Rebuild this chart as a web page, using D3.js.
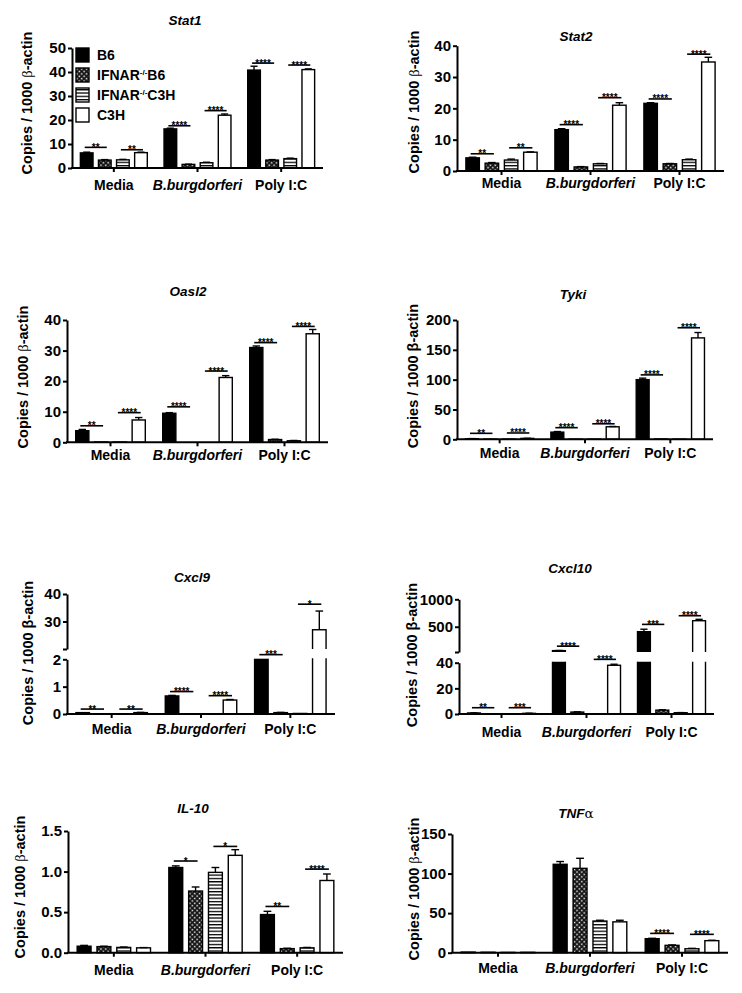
<!DOCTYPE html>
<html>
<head>
<meta charset="utf-8">
<script src="https://cdn.jsdelivr.net/npm/d3@7"></script>
<style>
  body { margin: 0; background: #fff; }
  svg text { font-family: "Liberation Sans", Arial, Helvetica, sans-serif; font-weight: bold; fill: #000; }
</style>
</head>
<body>
<svg id="chart" width="742" height="993"></svg>
<script>
const categories = ["Media", "B.burgdorferi", "Poly I:C"];
const groups = ["B6", "IFNAR-/-B6", "IFNAR-/-C3H", "C3H"];

// mean copies / 1000 b-actin, rows = category, cols = group
const stat1Mean = [[6.3, 3.3, 3.4, 6.4], [16.3, 1.5, 2.2, 22.0], [40.8, 3.3, 3.9, 41.0]];
const stat1Sem = [[0.3, 0.2, 0.2, 0.2], [0.3, 0.1, 0.2, 0.5], [1.6, 0.2, 0.2, 0.3]];
const stat1Sig = [
  {c: 0, a: 0, b: 1, label: "**", y: 8.6}, {c: 0, a: 2, b: 3, label: "**", y: 7.6},
  {c: 1, a: 0, b: 1, label: "****", y: 17.6}, {c: 1, a: 2, b: 3, label: "****", y: 23.9},
  {c: 2, a: 0, b: 1, label: "****", y: 43.7}, {c: 2, a: 2, b: 3, label: "****", y: 42.9}
];
const stat1Ticks = [0, 10, 20, 30, 40, 50];

const stat2Mean = [[4.2, 2.5, 3.5, 6.0], [13.2, 1.3, 2.3, 21.0], [21.6, 2.3, 3.6, 34.8]];
const stat2Sem = [[0.2, 0.2, 0.3, 0.1], [0.3, 0.1, 0.1, 0.8], [0.2, 0.1, 0.2, 1.5]];
const stat2Sig = [
  {c: 0, a: 0, b: 1, label: "**", y: 5.5}, {c: 0, a: 2, b: 3, label: "**", y: 7.4},
  {c: 1, a: 0, b: 1, label: "****", y: 14.8}, {c: 1, a: 2, b: 3, label: "****", y: 23.4},
  {c: 2, a: 0, b: 1, label: "****", y: 23.0}, {c: 2, a: 2, b: 3, label: "****", y: 37.3}
];
const stat2Ticks = [0, 10, 20, 30, 40];

const oasl2Mean = [[3.8, 0.1, 0.1, 7.3], [9.5, 0, 0, 21.2], [31.0, 0.9, 0.5, 35.5]];
const oasl2Sem = [[0.4, 0, 0, 0.8], [0.2, 0, 0, 0.6], [0.5, 0.1, 0.1, 1.4]];
const oasl2Sig = [
  {c: 0, a: 0, b: 1, label: "**", y: 5.4}, {c: 0, a: 2, b: 3, label: "****", y: 9.7},
  {c: 1, a: 0, b: 1, label: "****", y: 11.6}, {c: 1, a: 2, b: 3, label: "****", y: 23.3},
  {c: 2, a: 0, b: 1, label: "****", y: 32.6}, {c: 2, a: 2, b: 3, label: "****", y: 37.9}
];
const oasl2Ticks = [0, 10, 20, 30, 40];

const tykiMean = [[1.0, 0.3, 0.3, 1.5], [12.0, 0.2, 0.2, 21.0], [100.0, 0.5, 0.2, 170.0]];
const tykiSem = [[0.2, 0, 0, 0.2], [1.0, 0, 0, 0.5], [2.5, 0, 0, 9.0]];
const tykiSig = [
  {c: 0, a: 0, b: 1, label: "**", y: 10}, {c: 0, a: 2, b: 3, label: "****", y: 10.6},
  {c: 1, a: 0, b: 1, label: "****", y: 19.5}, {c: 1, a: 2, b: 3, label: "****", y: 26},
  {c: 2, a: 0, b: 1, label: "****", y: 108}, {c: 2, a: 2, b: 3, label: "****", y: 187}
];
const tykiTicks = [0, 50, 100, 150, 200];

const cxcl9Mean = [[0.05, 0.01, 0.01, 0.05], [0.66, 0.01, 0.01, 0.51], [2.0, 0.05, 0.02, 27.0]];
const cxcl9Sem = [[0, 0, 0, 0.01], [0.02, 0, 0, 0.02], [0, 0.01, 0, 6.8]];
const cxcl9Sig = [
  {c: 0, a: 0, b: 1, label: "**", y: 0.18}, {c: 0, a: 2, b: 3, label: "**", y: 0.18},
  {c: 1, a: 0, b: 1, label: "****", y: 0.82}, {c: 1, a: 2, b: 3, label: "****", y: 0.67},
  {c: 2, a: 0, b: 1, label: "***", y: 2.17, low: true}, {c: 2, a: 2, b: 3, label: "*", y: 36.3}
];
const cxcl9UpperTicks = [30, 40];
const cxcl9LowerTicks = [0, 1, 2];

const cxcl10Mean = [[0.8, 0.1, 0.1, 0.5], [65, 1.5, 0.1, 38.0], [410, 3.0, 1.0, 610]];
const cxcl10Sem = [[0.1, 0, 0, 0.1], [3, 0.2, 0, 0.8], [45, 0.3, 0.1, 25]];
const cxcl10Sig = [
  {c: 0, a: 0, b: 1, label: "**", y: 4.9}, {c: 0, a: 2, b: 3, label: "***", y: 4.9},
  {c: 1, a: 0, b: 1, label: "****", y: 146}, {c: 1, a: 2, b: 3, label: "****", y: 42.6, low: true},
  {c: 2, a: 0, b: 1, label: "***", y: 543}, {c: 2, a: 2, b: 3, label: "****", y: 701}
];
const cxcl10UpperTicks = [500, 1000];
const cxcl10LowerTicks = [0, 20, 40];

const il10Mean = [[0.08, 0.075, 0.065, 0.06], [1.05, 0.76, 0.99, 1.2], [0.47, 0.05, 0.06, 0.89]];
const il10Sem = [[0.01, 0.005, 0.005, 0.003], [0.02, 0.05, 0.06, 0.07], [0.04, 0.005, 0.005, 0.08]];
const il10Sig = [
  {c: 1, a: 0, b: 1, label: "*", y: 1.13}, {c: 1, a: 2, b: 3, label: "*", y: 1.31},
  {c: 2, a: 0, b: 1, label: "**", y: 0.57}, {c: 2, a: 2, b: 3, label: "****", y: 1.03}
];
const il10Ticks = [0, 0.5, 1.0, 1.5];

const tnfMean = [[0.8, 0.6, 0.4, 0.5], [111.7, 106.6, 40.0, 39.0], [17.7, 9.3, 5.0, 15.2]];
const tnfSem = [[0, 0, 0, 0], [3.5, 12.7, 1.0, 2.0], [0.5, 0.5, 0.5, 0.5]];
const tnfSig = [
  {c: 2, a: 0, b: 1, label: "****", y: 24.4}, {c: 2, a: 2, b: 3, label: "****", y: 23.2}
];
const tnfTicks = [0, 50, 100, 150];

const panels = [
  {id: "stat1", gene: "Stat1", mean: stat1Mean, sem: stat1Sem, sig: stat1Sig, legend: true, betaSerif: true,
   segs: [{domain: [0, 50], top: 48, bottom: 168, ticks: stat1Ticks}],
   box: {x0: 72, x1: 323, titleX: 185, titleY: 25, catY: 190, labelX: 27, labelY: 103}},
  {id: "stat2", gene: "Stat2", mean: stat2Mean, sem: stat2Sem, sig: stat2Sig, betaSerif: true,
   segs: [{domain: [0, 40], top: 45.7, bottom: 171, ticks: stat2Ticks}],
   box: {x0: 457, x1: 724, titleX: 576, titleY: 41, catY: 188, labelX: 414, labelY: 102}},
  {id: "oasl2", gene: "Oasl2", mean: oasl2Mean, sem: oasl2Sem, sig: oasl2Sig, betaSerif: true,
   segs: [{domain: [0, 40], top: 320, bottom: 442.3, ticks: oasl2Ticks}],
   box: {x0: 67, x1: 328, titleX: 188, titleY: 296, catY: 460, labelX: 23, labelY: 377}},
  {id: "tyki", gene: "Tyki", mean: tykiMean, sem: tykiSem, sig: tykiSig,
   segs: [{domain: [0, 200], top: 320, bottom: 439.3, ticks: tykiTicks}],
   box: {x0: 457, x1: 713, titleX: 573, titleY: 299, catY: 458, labelX: 413, labelY: 376}},
  {id: "cxcl9", gene: "Cxcl9", mean: cxcl9Mean, sem: cxcl9Sem, sig: cxcl9Sig,
   segs: [{domain: [20, 40], top: 594, bottom: 649, ticks: cxcl9UpperTicks},
          {domain: [0, 2], top: 659.3, bottom: 714, ticks: cxcl9LowerTicks}],
   box: {x0: 67, x1: 335, titleX: 192, titleY: 582, catY: 734, labelX: 28, labelY: 653}},
  {id: "cxcl10", gene: "Cxcl10", mean: cxcl10Mean, sem: cxcl10Sem, sig: cxcl10Sig,
   segs: [{domain: [40, 1000], top: 599.3, bottom: 652, ticks: cxcl10UpperTicks},
          {domain: [0, 40], top: 662.7, bottom: 714, ticks: cxcl10LowerTicks}],
   box: {x0: 459, x1: 714, titleX: 570, titleY: 572.5, catY: 736.5, labelX: 412, labelY: 655}},
  {id: "il10", gene: "IL-10", mean: il10Mean, sem: il10Sem, sig: il10Sig, betaSerif: true, fmt: d3.format(".1f"),
   segs: [{domain: [0, 1.5], top: 831, bottom: 952.7, ticks: il10Ticks}],
   box: {x0: 68, x1: 343, titleX: 193, titleY: 812.5, catY: 975, labelX: 20, labelY: 887}},
  {id: "tnf", gene: "TNF", greek: "α", mean: tnfMean, sem: tnfSem, sig: tnfSig, betaSerif: true,
   segs: [{domain: [0, 150], top: 834, bottom: 952.7, ticks: tnfTicks}],
   box: {x0: 452, x1: 728, titleX: 576, titleY: 818, catY: 973, labelX: 414, labelY: 889}}
];

const svg = d3.select("#chart");
const defs = svg.append("defs");

// dotted checker fill for IFNAR-/-B6
const chk = defs.append("pattern").attr("id", "chk").attr("patternUnits", "userSpaceOnUse")
  .attr("width", 3.4).attr("height", 3.4).attr("patternTransform", "rotate(45)");
chk.append("rect").attr("width", 3.4).attr("height", 3.4).attr("fill", "#111");
chk.append("rect").attr("x", 0.5).attr("y", 0.5).attr("width", 1.5).attr("height", 1.5).attr("fill", "#fff");
// horizontal stripes for IFNAR-/-C3H
const str = defs.append("pattern").attr("id", "str").attr("patternUnits", "userSpaceOnUse")
  .attr("width", 4).attr("height", 3.3);
str.append("rect").attr("width", 4).attr("height", 3.3).attr("fill", "#fff");
str.append("rect").attr("width", 4).attr("height", 1.3).attr("fill", "#000");

const fills = ["#000", "url(#chk)", "url(#str)", "#fff"];

function drawPanel(p) {
  const b = p.box;
  const g = svg.append("g");
  const x = d3.scaleBand().domain(categories).range([b.x0, b.x1]);
  const bw = x.bandwidth();
  const xi = d3.scaleBand().domain(groups).range([-0.4 * bw, 0.4 * bw]).paddingInner(0.3);
  const barW = xi.bandwidth();
  const cx = (ci, gi) => x(categories[ci]) + bw / 2 + xi(groups[gi]) + barW / 2;

  const segs = p.segs.map(s => Object.assign({}, s, {scale: d3.scaleLinear().domain(s.domain).range([s.bottom, s.top])}));
  const broken = segs.length > 1;
  const up = segs[0], low = segs[segs.length - 1];
  const y = (v, forceLow) => (!broken || forceLow || v < up.domain[0]) ? low.scale(v) : up.scale(v);
  const yBot = low.bottom;

  const rows = [];
  p.mean.forEach((row, ci) => row.forEach((v, gi) => rows.push({ci, gi, v, e: p.sem[ci][gi]})));

  // bars
  segs.forEach((s, si) => {
    let holder = g;
    let data = rows;
    let bottom = s.bottom;
    if (broken) {
      const cid = "clip-" + p.id + si;
      const top = si === 0 ? s.top - 40 : s.top - 1;
      const bot = si === 0 ? s.bottom : s.bottom + 2;
      defs.append("clipPath").attr("id", cid).append("rect")
        .attr("x", b.x0).attr("y", top).attr("width", b.x1 - b.x0 + 5).attr("height", bot - top);
      holder = g.append("g").attr("clip-path", `url(#${cid})`);
      if (si === 0) { data = rows.filter(d => d.v > s.domain[0]); bottom = s.bottom + 6; }
    }
    holder.selectAll(null).data(data).join("rect")
      .attr("x", d => cx(d.ci, d.gi) - barW / 2)
      .attr("y", d => s.scale(d.v))
      .attr("width", barW)
      .attr("height", d => Math.max(0, bottom - s.scale(d.v)))
      .attr("fill", d => fills[d.gi])
      .attr("stroke", "#000")
      .attr("stroke-width", 1.4);
  });

  // error bars (upper only)
  const eb = g.selectAll(null).data(rows.filter(d => d.e > 0)).join("g");
  eb.append("line")
    .attr("x1", d => cx(d.ci, d.gi)).attr("x2", d => cx(d.ci, d.gi))
    .attr("y1", d => y(d.v)).attr("y2", d => y(d.v + d.e))
    .attr("stroke", "#000").attr("stroke-width", 1.4);
  eb.append("line")
    .attr("x1", d => cx(d.ci, d.gi) - barW * 0.28).attr("x2", d => cx(d.ci, d.gi) + barW * 0.28)
    .attr("y1", d => y(d.v + d.e)).attr("y2", d => y(d.v + d.e))
    .attr("stroke", "#000").attr("stroke-width", 1.4);

  // y axis (one piece per segment)
  const fmt = p.fmt || (d => d);
  segs.forEach((s, si) => {
    const vals = broken && si === 0 ? [s.domain[0]].concat(s.ticks) : s.ticks;
    const ax = g.append("g").attr("transform", `translate(${b.x0},0)`)
      .call(d3.axisLeft(s.scale).tickValues(vals).tickSize(4).tickSizeOuter(0).tickPadding(2)
        .tickFormat(d => s.ticks.includes(d) ? fmt(d) : ""));
    ax.attr("font-size", 15);
    ax.selectAll("path, line").attr("stroke", "#000").attr("stroke-width", 2);
  });

  // x axis
  const xa = g.append("g").attr("transform", `translate(0,${yBot})`)
    .call(d3.axisBottom(x).tickSize(4).tickSizeOuter(0).tickFormat(""));
  xa.selectAll("path, line").attr("stroke", "#000").attr("stroke-width", 2);
  xa.select("path").attr("d", `M${b.x0 - 1},0H${b.x1}`);

  g.selectAll(null).data(categories).join("text")
    .attr("x", d => x(d) + bw / 2)
    .attr("y", b.catY)
    .attr("text-anchor", "middle")
    .attr("font-size", 14)
    .attr("font-style", (d, i) => i === 1 ? "italic" : "normal")
    .text(d => d);

  // significance brackets
  p.sig.forEach(s => {
    const yy = y(s.y, s.low);
    const xl = cx(s.c, s.a) - 2, xr = cx(s.c, s.b) + 2;
    g.append("line").attr("x1", xl).attr("x2", xr).attr("y1", yy).attr("y2", yy)
      .attr("stroke", "#000").attr("stroke-width", 1.6);
    g.append("text").attr("x", (xl + xr) / 2).attr("y", yy + 3.5)
      .attr("text-anchor", "middle").attr("font-size", 10).text(s.label);
  });

  // title
  const t = g.append("text").attr("x", b.titleX).attr("y", b.titleY)
    .attr("text-anchor", "middle").attr("font-size", 13.5);
  t.append("tspan").attr("font-style", "italic").text(p.gene);
  if (p.greek) {
    t.append("tspan").style("font-family", "'DejaVu Serif', serif").style("font-weight", "normal").text(p.greek);
  }

  // y label
  const yl = g.append("text")
    .attr("transform", `translate(${b.labelX},${b.labelY}) rotate(-90)`)
    .attr("text-anchor", "middle").attr("dy", "0.36em").attr("font-size", 14.5);
  yl.append("tspan").text("Copies / 1000 ");
  const beta = yl.append("tspan").text("β");
  if (p.betaSerif) beta.style("font-family", "'Liberation Serif', serif").style("font-weight", "normal");
  yl.append("tspan").text("-actin");

  if (p.legend) {
    const lg = g.append("g");
    groups.forEach((name, i) => {
      const top = 48 + 20 * i;
      lg.append("rect").attr("x", 76).attr("y", top).attr("width", 13).attr("height", 14)
        .attr("fill", fills[i]).attr("stroke", "#000").attr("stroke-width", 1.4);
      const tx = lg.append("text").attr("x", 97).attr("y", top + 12).attr("font-size", 14);
      const parts = name.split("-/-");
      if (parts.length > 1) {
        tx.append("tspan").text(parts[0]);
        tx.append("tspan").attr("dy", -5).attr("font-size", 8).text("-/-");
        tx.append("tspan").attr("dy", 5).text(parts[1]);
      } else {
        tx.text(name);
      }
    });
  }
}

panels.forEach(drawPanel);
</script>
</body>
</html>
